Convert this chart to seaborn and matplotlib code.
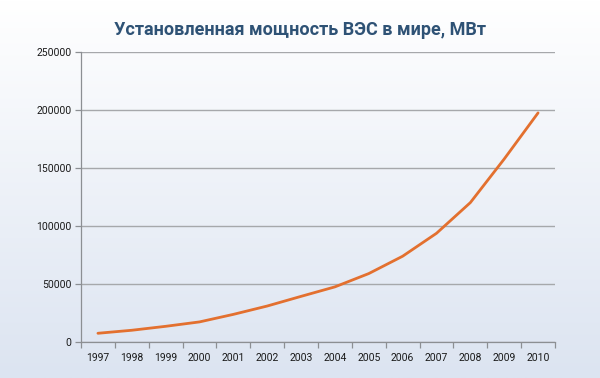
import numpy as np
import pandas as pd
import matplotlib
matplotlib.use("Agg")
import matplotlib.pyplot as plt
from matplotlib.colors import LinearSegmentedColormap
import seaborn as sns

# Установленная мощность ВЭС в мире, МВт
years = [1997, 1998, 1999, 2000, 2001, 2002, 2003,
         2004, 2005, 2006, 2007, 2008, 2009, 2010]
capacity_mw = [7600, 10200, 13600, 17400, 23900, 31100, 39431,
               47620, 59091, 74052, 93820, 120291, 157899, 197637]
y_ticks = [0, 50000, 100000, 150000, 200000, 250000]
title = "Установленная мощность ВЭС в мире, МВт"

df = pd.DataFrame({"year": years, "mw": capacity_mw})

sns.set_theme(style="white")
plt.rcParams["font.family"] = ["Roboto", "DejaVu Sans"]

fig = plt.figure(figsize=(6.0, 3.78), dpi=100)

# фон: вертикальный градиент от белого к светло-голубому
bg = fig.add_axes([0, 0, 1, 1], zorder=-10)
grad = np.linspace(0, 1, 256).reshape(-1, 1)
cmap = LinearSegmentedColormap.from_list("bg", ["#ffffff", "#dce4f1"])
bg.imshow(grad, aspect="auto", cmap=cmap, extent=[0, 1, 0, 1], origin="upper")
bg.axis("off")

ax = fig.add_axes([0.135, 0.095, 0.79, 0.767])
ax.patch.set_alpha(0)

sns.lineplot(data=df, x="year", y="mw", ax=ax, color="#e3702f",
             linewidth=2.0, zorder=3)

ax.set_xlim(years[0] - 0.5, years[-1] + 0.5)
ax.set_ylim(0, 250000)
ax.set_yticks(y_ticks)
ax.set_yticklabels([str(v) for v in y_ticks])
ax.set_xticks(years)
ax.set_xticklabels([str(y) for y in years])
ax.set_xticks([y - 0.5 for y in years] + [years[-1] + 0.5], minor=True)
ax.set_xlabel("")
ax.set_ylabel("")

ax.grid(axis="y", color="#a6a8ab", linewidth=1.0, zorder=1)
ax.grid(axis="x", visible=False)
for side in ["top", "right"]:
    ax.spines[side].set_visible(False)
for side in ["left", "bottom"]:
    ax.spines[side].set_color("#8c8f93")
    ax.spines[side].set_linewidth(0.9)

ax.tick_params(axis="y", which="major", length=4, width=0.9, color="#8c8f93",
               labelsize=7.5, labelcolor="#1a1a1a", pad=3, left=True)
ax.tick_params(axis="x", which="major", length=0, labelsize=7.5,
               labelcolor="#1a1a1a", pad=8)
ax.tick_params(axis="x", which="minor", length=4, width=0.9,
               color="#8c8f93", bottom=True)

fig.text(0.5, 0.907, title, ha="center", va="baseline", fontsize=13,
         fontweight="bold", color="#2e5275")

fig.savefig("out.png", dpi=100)
